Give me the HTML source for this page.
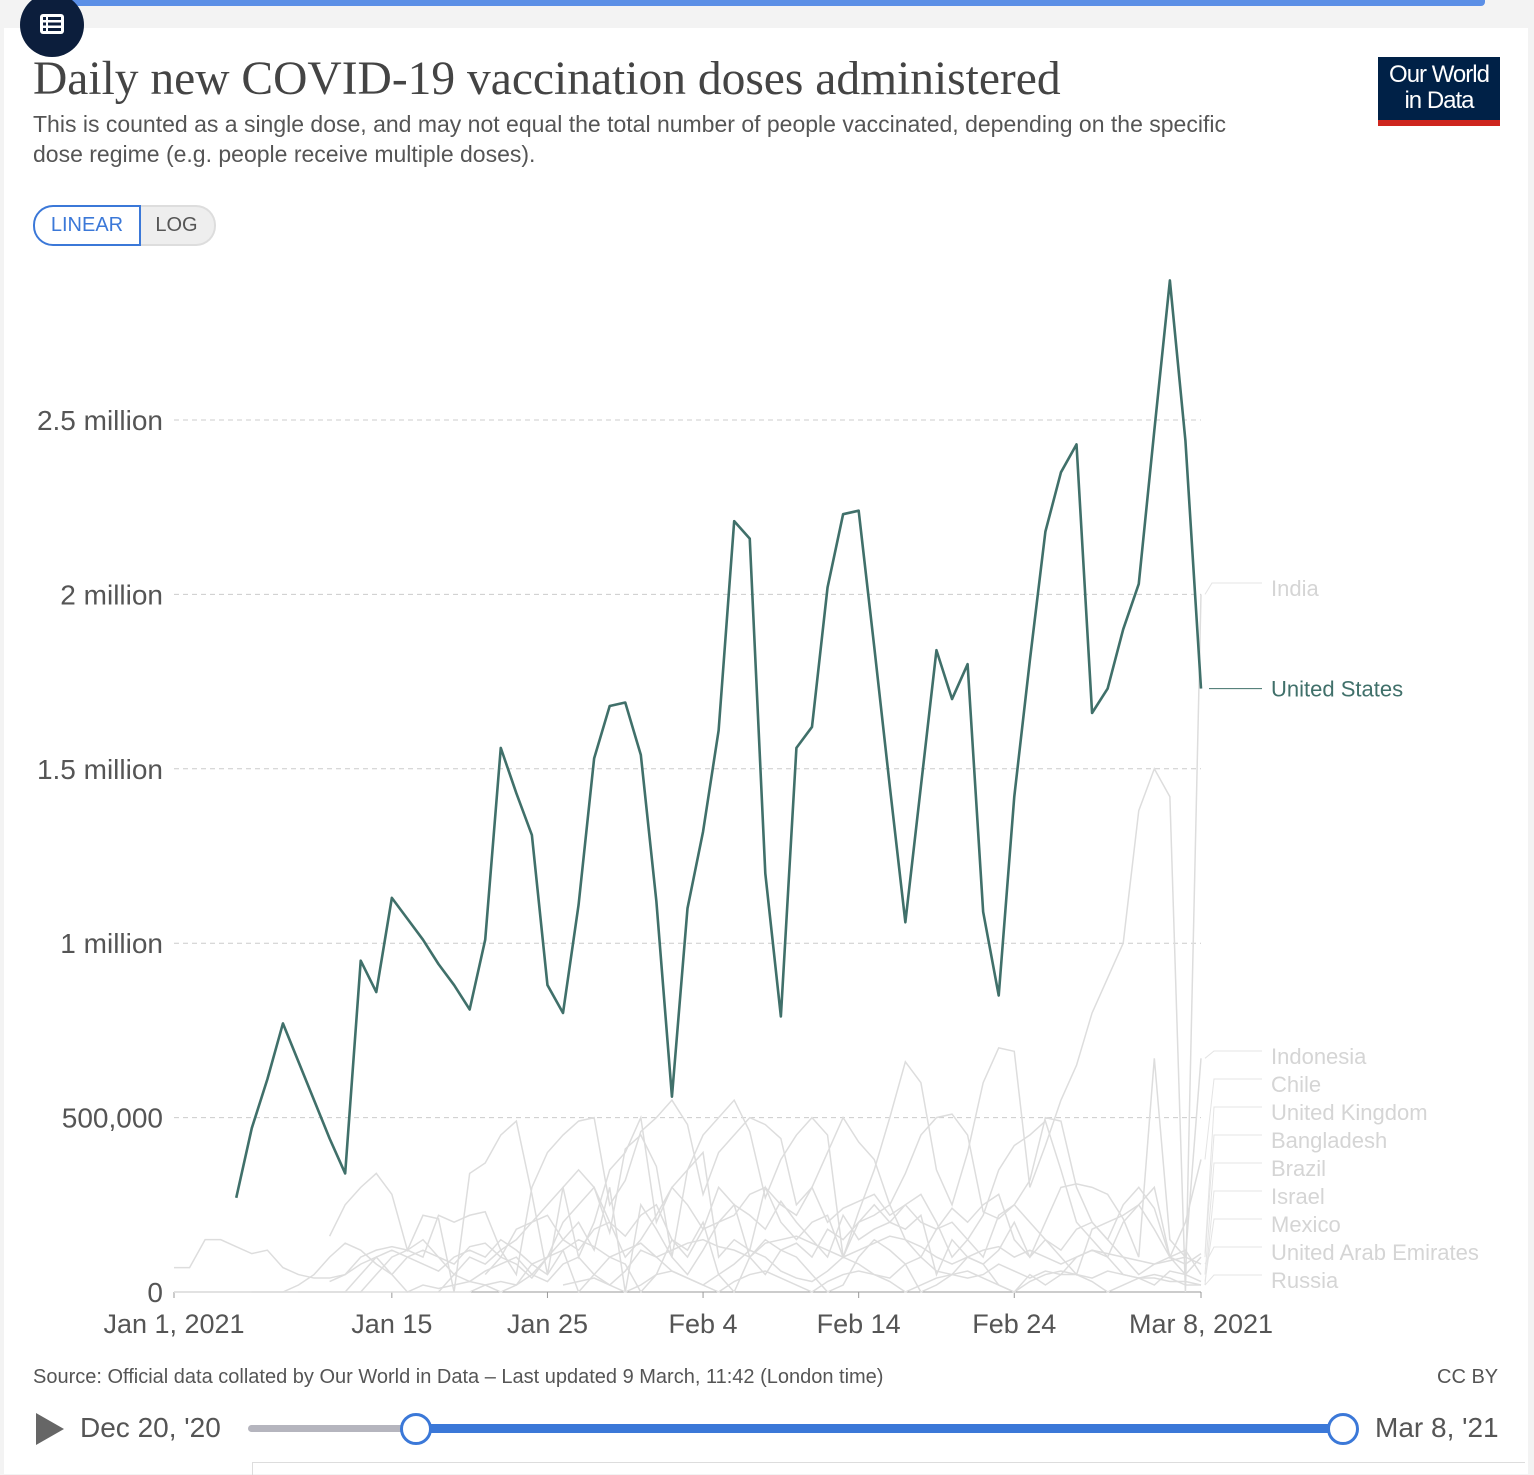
<!DOCTYPE html>
<html><head><meta charset="utf-8">
<style>
body{margin:0;width:1534px;height:1474px;background:#f3f3f3;font-family:"Liberation Sans",sans-serif;overflow:hidden;position:relative}
.card{position:absolute;left:4px;top:28px;width:1524px;height:1446px;background:#fff}
.abs{position:absolute}
</style></head><body>
<div class="abs" style="left:50px;top:0;width:1435px;height:6px;background:#5b8fe6;border-radius:0 0 4px 4px"></div>
<div class="card"></div>
<div class="abs" style="left:20px;top:-7px;width:64px;height:64px;border-radius:50%;background:#0c1e3c">
<svg width="64" height="64" style="position:absolute;left:0;top:0"><g fill="#fff"><rect x="20" y="21" width="24" height="20" rx="3"/></g><g fill="#0c1e3c"><rect x="23" y="24" width="3" height="3"/><rect x="28" y="24" width="13" height="3"/><rect x="23" y="29.5" width="3" height="3"/><rect x="28" y="29.5" width="13" height="3"/><rect x="23" y="35" width="3" height="3"/><rect x="28" y="35" width="13" height="3"/></g></svg></div>
<div class="abs" style="left:33px;top:52px;font-family:'Liberation Serif',serif;font-size:47.5px;color:#444;white-space:nowrap">Daily new COVID-19 vaccination doses administered</div>
<div class="abs" style="left:33px;top:109px;font-size:23px;line-height:30px;color:#555;width:1215px">This is counted as a single dose, and may not equal the total number of people vaccinated, depending on the specific dose regime (e.g. people receive multiple doses).</div>
<div class="abs" style="left:1378px;top:57px;width:122px;height:69px;background:#002147;color:#fff;font-size:24px;line-height:26px;text-align:center;letter-spacing:-1px">
<div style="padding-top:5px">Our World</div><div>in Data</div><div style="position:absolute;left:0;bottom:0;width:122px;height:6px;background:#ce261e"></div></div>
<div class="abs" style="left:33px;top:205px;width:104px;height:37px;border:2px solid #3b78d8;border-radius:20px 0 0 20px;color:#3b78d8;font-size:20px;line-height:37px;text-align:center;background:#fff;z-index:2">LINEAR</div>
<div class="abs" style="left:139px;top:205px;width:75px;height:37px;border:2px solid #ddd;border-left:none;border-radius:0 20px 20px 0;color:#555;font-size:20px;line-height:37px;text-align:center;background:#eee">LOG</div>

<svg id="chart" class="abs" style="left:0;top:0" width="1534" height="1474"></svg>

<div class="abs" style="left:33px;top:1366px;font-size:20px;color:#555">Source: Official data collated by Our World in Data – Last updated 9 March, 11:42 (London time)</div>
<div class="abs" style="left:1437px;top:1366px;font-size:20px;color:#555">CC BY</div>
<svg class="abs" style="left:34px;top:1412px" width="32" height="34"><polygon points="2,1 30,17 2,33" fill="#666"/></svg>
<div class="abs" style="left:80px;top:1412px;font-size:28px;color:#555">Dec 20, '20</div>
<div class="abs" style="left:248px;top:1425px;width:1094px;height:7px;background:#b5b5be;border-radius:4px"></div>
<div class="abs" style="left:415px;top:1424px;width:927px;height:9px;background:#3b78d8"></div>
<div class="abs" style="left:400px;top:1413px;width:26px;height:26px;border:3px solid #3b78d8;border-radius:50%;background:#fff"></div>
<div class="abs" style="left:1327px;top:1413px;width:26px;height:26px;border:3px solid #3b78d8;border-radius:50%;background:#fff"></div>
<div class="abs" style="left:1375px;top:1412px;font-size:28px;color:#555">Mar 8, '21</div>
<div class="abs" style="left:252px;top:1462px;width:1272px;height:12px;border-top:1px solid #ddd;border-left:1px solid #ddd"></div>

<script>
const usStartDay = 4;
const usValues = [0.27,0.47,0.61,0.77,0.66,0.55,0.44,0.34,0.95,0.86,1.13,1.07,1.01,0.94,0.88,0.81,1.01,1.56,1.43,1.31,0.88,0.80,1.11,1.53,1.68,1.69,1.54,1.12,0.56,1.10,1.32,1.61,2.21,2.16,1.20,0.79,1.56,1.62,2.02,2.23,2.24,1.85,1.45,1.06,1.45,1.84,1.70,1.80,1.09,0.85,1.42,1.81,2.18,2.35,2.43,1.66,1.73,1.90,2.03,2.47,2.90,2.44,1.73];
const greyNames = ["India","Indonesia","Chile","United Kingdom","Bangladesh","Brazil","Israel","Mexico","United Arab Emirates","Russia"];
const greyStarts = [10,5,0,0,20,17,0,8,10,25];
const greySeries = [
 [0.16,0.25,0.30,0.34,0.28,0.12,0.22,0.21,0.0,0.34,0.37,0.45,0.49,0.28,0.05,0.3,0.35,0.30,0.17,0.41,0.45,0.36,0.10,0.35,0.45,0.50,0.55,0.46,0.27,0.38,0.45,0.50,0.45,0.10,0.23,0.35,0.50,0.66,0.60,0.35,0.25,0.40,0.60,0.70,0.69,0.30,0.42,0.55,0.65,0.80,0.90,1.00,1.38,1.50,1.42,0.0,2.0],
 [0.0,0.0,0.0,0.0,0.0,0.0,0.0,0.0,0.05,0.1,0.12,0.15,0.1,0.08,0.13,0.14,0.1,0.18,0.2,0.22,0.15,0.12,0.18,0.2,0.16,0.22,0.25,0.15,0.1,0.18,0.2,0.22,0.28,0.3,0.25,0.22,0.3,0.2,0.24,0.26,0.28,0.22,0.25,0.2,0.18,0.24,0.2,0.25,0.28,0.15,0.1,0.2,0.3,0.31,0.3,0.28,0.21,0.1,0.67,0.15,0.1,0.67],
 [0,0,0,0,0,0,0,0,0,0,0,0,0,0,0,0,0,0,0,0,0.02,0.03,0.02,0.05,0.1,0.2,0.25,0.3,0.2,0.1,0.15,0.22,0.3,0.25,0.18,0.3,0.25,0.22,0.18,0.26,0.2,0.15,0.1,0.22,0.15,0.18,0.2,0.25,0.28,0.2,0.1,0.15,0.22,0.35,0.42,0.45,0.49,0.35,0.2,0.15,0.1,0.2,0.25,0.3,0.1,0.2,0.38],
 [0.07,0.07,0.15,0.15,0.13,0.11,0.12,0.07,0.05,0.04,0.04,0.05,0.1,0.12,0.13,0.12,0.1,0.22,0.2,0.22,0.23,0.12,0.05,0.3,0.4,0.45,0.49,0.5,0.25,0.32,0.46,0.5,0.55,0.48,0.28,0.4,0.45,0.5,0.48,0.44,0.25,0.3,0.4,0.5,0.43,0.38,0.25,0.34,0.45,0.5,0.51,0.45,0.23,0.21,0.25,0.32,0.5,0.49,0.3,0.2,0.15,0.25,0.3,0.24,0.1,0.08,0.11],
 [0.05,0.1,0.08,0.04,0.1,0.15,0.2,0.12,0.3,0.0,0.25,0.18,0.1,0.05,0.12,0.2,0.25,0.1,0.05,0.12,0.14,0.1,0.18,0.15,0.2,0.22,0.25,0.15,0.1,0.18,0.2,0.15,0.1,0.22,0.25,0.2,0.15,0.1,0.05,0.18,0.2,0.22,0.25,0.18,0.1,0.05,0.1],
 [0.0,0.05,0.1,0.08,0.12,0.15,0.2,0.25,0.3,0.1,0.2,0.35,0.4,0.5,0.2,0.3,0.35,0.4,0.1,0.15,0.12,0.3,0.2,0.15,0.2,0.22,0.1,0.2,0.25,0.2,0.18,0.22,0.05,0.15,0.1,0.08,0.12,0.2,0.1,0.15,0.12,0.18,0.2,0.15,0.1,0.05,0.08,0.1,0.12,0.05],
 [0,0,0,0,0,0,0,0,0.02,0.05,0.1,0.14,0.12,0.08,0.05,0.1,0.12,0.1,0.05,0.03,0.06,0.08,0.1,0.05,0.03,0.08,0.1,0.05,0.02,0.06,0.12,0.1,0.06,0.04,0.02,0.05,0.08,0.12,0.1,0.06,0.04,0.03,0.06,0.1,0.08,0.05,0.04,0.08,0.1,0.06,0.05,0.04,0.05,0.08,0.06,0.04,0.06,0.05,0.05,0.04,0.06,0.05,0.04,0.04,0.03,0.03,0.02],
 [0.0,0.0,0.0,0.0,0.05,0.1,0.05,0.0,0.02,0.01,0.02,0.03,0.02,0.0,0.02,0.08,0.05,0.12,0.0,0.05,0.1,0.08,0.0,0.05,0.15,0.12,0.2,0.05,0.0,0.1,0.15,0.12,0.1,0.05,0.0,0.02,0.1,0.15,0.12,0.08,0.0,0.02,0.05,0.1,0.08,0.02,0.0,0.05,0.02,0.05,0.1,0.12,0.1,0.05,0.04,0.02,0.06,0.05,0.03],
 [0.03,0.05,0.08,0.1,0.12,0.1,0.08,0.06,0.1,0.12,0.1,0.15,0.12,0.08,0.1,0.12,0.15,0.13,0.1,0.12,0.14,0.1,0.12,0.14,0.15,0.13,0.12,0.1,0.14,0.15,0.16,0.14,0.12,0.1,0.12,0.14,0.16,0.15,0.13,0.1,0.08,0.1,0.12,0.13,0.1,0.12,0.1,0.08,0.1,0.12,0.11,0.1,0.09,0.08,0.09,0.1,0.08],
 [0.02,0.03,0.04,0.02,0.0,0.02,0.05,0.06,0.04,0.02,0.0,0.03,0.05,0.06,0.04,0.02,0.0,0.03,0.05,0.06,0.05,0.03,0.0,0.02,0.04,0.05,0.06,0.04,0.02,0.0,0.03,0.05,0.06,0.05,0.03,0.0,0.02,0.04,0.05,0.04,0.02,0.02]
];
const yTicks = [0,0.5,1,1.5,2,2.5];
const yTickLabels = ["0","500,000","1 million","1.5 million","2 million","2.5 million"];
const xTickDays = [0,14,24,34,44,54,66];
const xTickLabels = ["Jan 1, 2021","Jan 15","Jan 25","Feb 4","Feb 14","Feb 24","Mar 8, 2021"];
const labelYs = [589,1057,1085,1113,1141,1169,1197,1225,1253,1281];

const NS="http://www.w3.org/2000/svg", svg=document.getElementById('chart');
const X0=174,X1=1201,Y0=1292,PXM=348.8;
const x=d=>X0+(X1-X0)*d/66, y=v=>Y0-v*PXM;
function mk(t,a,p){const e=document.createElementNS(NS,t);for(const k in a)e.setAttribute(k,a[k]);(p||svg).appendChild(e);return e;}
yTicks.forEach((t,i)=>{
 if(t>0){const l=mk('line',{x1:X0,x2:X1,y1:y(t),y2:y(t),stroke:'#ccc','stroke-dasharray':'5,4'});
 
 }
 const tx=mk('text',{x:163,y:y(t)+10,'text-anchor':'end','font-size':28,fill:'#555','font-family':'Liberation Sans'});
 tx.textContent=yTickLabels[i];
 
 
});
const ax=mk('line',{x1:X0,x2:X1,y1:Y0,y2:Y0,stroke:'#999'});


xTickDays.forEach((d,i)=>{
 mk('line',{x1:x(d),x2:x(d),y1:Y0,y2:Y0+6,stroke:'#999'});
 const tx=mk('text',{x:x(d),y:1333,'text-anchor':'middle','font-size':27,fill:'#555','font-family':'Liberation Sans'});
 tx.textContent=xTickLabels[i];
 
 
});
greySeries.forEach((s,i)=>{
 const pts=s.map((v,j)=>x(greyStarts[i]+j)+','+y(v)).join(' ');
 const p=mk('polyline',{points:pts,fill:'none',stroke:'#ddd','stroke-width':1.5});
 
 
 const last=s[s.length-1];
 mk('polyline',{points:`${X1+4},${y(last)} ${i?1214:1212},${labelYs[i]-6} 1262,${labelYs[i]-6}`,fill:'none',stroke:'#e4e4e4'});
 const t=mk('text',{x:1271,y:labelYs[i]+7,'font-size':22,fill:'#d5d5d5','font-family':'Liberation Sans'});
 t.textContent=greyNames[i];
 
 
});
const usPts=usValues.map((v,j)=>x(usStartDay+j)+','+y(v)).join(' ');
const us=mk('polyline',{points:usPts,fill:'none',stroke:'#40706a','stroke-width':2.6,'stroke-linejoin':'round'});


const ul=usValues[usValues.length-1];
mk('line',{x1:X1+8,x2:1262,y1:y(ul),y2:y(ul),stroke:'#40706a'});
const ut=mk('text',{x:1271,y:y(ul)+8,'font-size':22,fill:'#40706a','font-family':'Liberation Sans'});
ut.textContent='United States';


</script>
</body></html>
